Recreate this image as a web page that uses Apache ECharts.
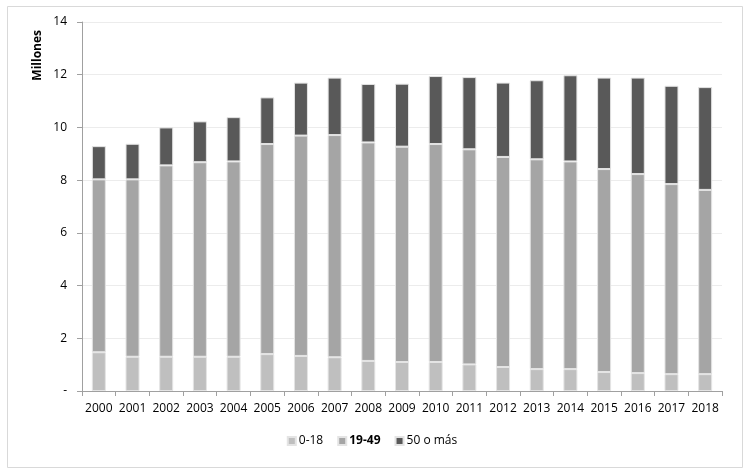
<!DOCTYPE html>
<html>
<head>
<meta charset="utf-8">
<script src="https://cdn.jsdelivr.net/npm/echarts@6/dist/echarts.min.js"></script>
<style>
html,body{margin:0;padding:0;background:#fff;}
#chart{width:744px;height:469px;}
</style>
</head>
<body>
<div id="chart"></div>
<script>
var years = ['2000','2001','2002','2003','2004','2005','2006','2007','2008','2009','2010','2011','2012','2013','2014','2015','2016','2017','2018'];
var age0_18 = [1.47,1.30,1.30,1.30,1.30,1.40,1.33,1.28,1.14,1.10,1.10,1.01,0.91,0.83,0.83,0.72,0.68,0.64,0.64];
var age19_49 = [6.56,6.73,7.26,7.38,7.41,7.97,8.36,8.43,8.29,8.17,8.27,8.16,7.97,7.96,7.88,7.70,7.55,7.21,6.99];
var age50plus = [1.26,1.35,1.44,1.55,1.68,1.77,2.01,2.18,2.22,2.39,2.58,2.74,2.82,3.00,3.27,3.47,3.66,3.73,3.90];
var seriesNames = ['0-18','19-49','50 o más'];
var yTicks = [0,2,4,6,8,10,12,14];

var font = 'Open Sans';
var chart = echarts.init(document.getElementById('chart'));
function barSeries(name, data, color){
  return {
    name: name, type: 'bar', stack: 'total', data: data, barWidth: 14,
    itemStyle: {color: color, borderColor: '#e4e4e4', borderWidth: 1},
    emphasis: {disabled: true}
  };
}
chart.setOption({
  animation: false,
  backgroundColor: '#ffffff',
  textStyle: {fontFamily: font},
  graphic: [{
    type: 'rect', left: 5, top: 4,
    shape: {width: 735, height: 461},
    style: {fill: 'none', stroke: '#d9d9d9', lineWidth: 1}
  }],
  grid: {left: 82, right: 22, top: 22, bottom: 78, containLabel: false},
  legend: {
    bottom: 17, left: 'center',
    itemWidth: 8, itemHeight: 8, itemGap: 14,
    icon: 'rect',
    data: seriesNames,
    textStyle: {fontFamily: font, fontSize: 12, color: '#000', padding: [0,0,0,-2],
      rich: {b: {fontWeight: 'bold', fontFamily: font, fontSize: 12, color: '#000'}}},
    formatter: function(n){ return n === '19-49' ? '{b|' + n + '}' : n; }
  },
  xAxis: {
    type: 'category', data: years,
    axisLine: {lineStyle: {color: '#a0a0a0', width: 1}},
    axisTick: {show: true, length: 5, alignWithLabel: false, lineStyle: {color: '#a0a0a0'}},
    axisLabel: {color: '#000', fontSize: 12, fontFamily: font, margin: 12, interval: 0}
  },
  yAxis: {
    type: 'value', min: 0, max: 14, interval: 2,
    name: 'Millones', nameLocation: 'end', nameRotate: 90,
    nameGap: 0,
    nameTextStyle: {fontWeight: 'bold', fontSize: 12, color: '#000', fontFamily: font,
      align: 'right', verticalAlign: 'bottom', padding: [0,8,38,0]},
    axisLine: {show: true, lineStyle: {color: '#a0a0a0', width: 1}},
    axisTick: {show: true, length: 5, lineStyle: {color: '#a0a0a0'}},
    splitLine: {lineStyle: {color: '#ececec', width: 1}},
    axisLabel: {color: '#000', fontSize: 12, fontFamily: font, margin: 15,
      formatter: function(v){ return v === 0 ? '-' : String(v); }}
  },
  series: [
    barSeries(seriesNames[0], age0_18, '#bfbfbf'),
    barSeries(seriesNames[1], age19_49, '#a5a5a5'),
    barSeries(seriesNames[2], age50plus, '#595959')
  ]
});
</script>
</body>
</html>
